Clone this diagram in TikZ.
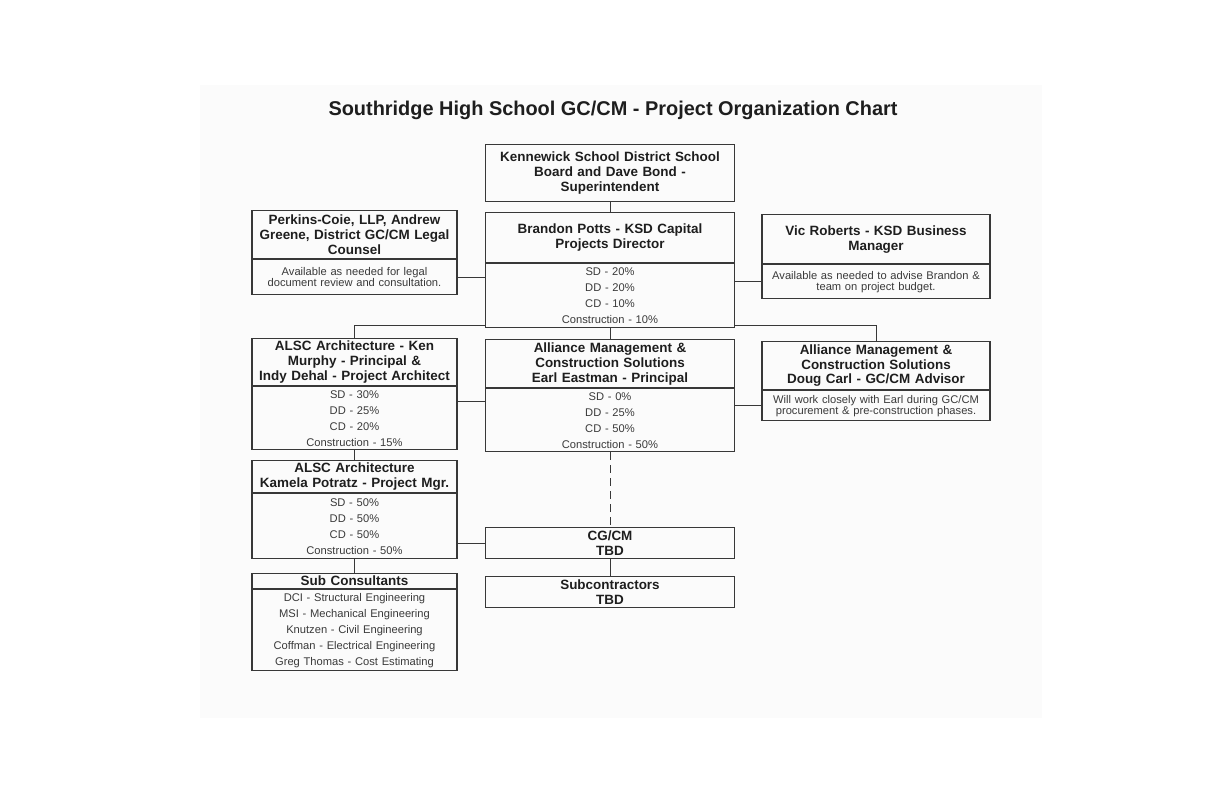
\documentclass[tikz,border=0pt]{standalone}
\usepackage{fontspec}
\setmainfont{Liberation Sans}
\usepackage{xcolor}
\usetikzlibrary{positioning,calc}
\definecolor{ink}{HTML}{1E1E1E}
\definecolor{inksoft}{HTML}{3A3A3A}
\definecolor{frame}{HTML}{383838}
\definecolor{scan}{HTML}{FBFBFB}

\begin{document}
\begin{tikzpicture}[
    x=1bp, y=-1bp,
    box/.style={draw=frame, line width=1.2bp, align=center, inner xsep=0pt,
                inner ysep=1bp, text=ink},
    head/.style={box, font=\fontsize{13.5}{15}\selectfont\bfseries,
                 text width=#1, minimum width=#1, anchor=north},
    rates/.style={box, font=\fontsize{11.2}{16}\selectfont, text=inksoft,
                  text width=#1, minimum width=#1},
    note/.style={box, font=\fontsize{11.2}{11}\selectfont, text=inksoft,
                 text width=#1, minimum width=#1},
    link/.style={draw=frame, line width=1bp},
  ]

\useasboundingbox (0,0) rectangle (1224,792);
\fill[scan] (200,85) rectangle (1042,718);

\node[font=\fontsize{20}{22}\selectfont\bfseries, text=ink] (title) at (613,110)
  {Southridge High School GC/CM - Project Organization Chart};

\node[head=249bp, minimum height=57bp] (board) at (610,144)
  {Kennewick School District School\\Board and Dave Bond -\\Superintendent};

\node[head=249bp, minimum height=49.5bp] (brh) at (610,212)
  {Brandon Potts - KSD Capital\\Projects Director};
\node[rates=249bp, minimum height=64.5bp, below=0pt of brh] (brb)
  {SD - 20\%\\DD - 20\%\\CD - 10\%\\Construction - 10\%};

\node[head=205bp, minimum height=48bp] (perkh) at (354.5,210)
  {Perkins-Coie, LLP, Andrew\\Greene, District GC/CM Legal\\Counsel};
\node[note=205bp, minimum height=35bp, below=0pt of perkh] (perkb)
  {Available as needed for legal\\document review and consultation.};

\node[head=228bp, minimum height=49bp] (vich) at (876,214)
  {Vic Roberts - KSD Business\\Manager};
\node[note=228bp, minimum height=34bp, below=0pt of vich] (vicb)
  {Available as needed to advise Brandon \&\\team on project budget.};

\node[head=205bp, minimum height=47bp] (kenh) at (354.5,338)
  {ALSC Architecture - Ken\\Murphy - Principal \&\\Indy Dehal - Project Architect};
\node[rates=205bp, minimum height=63bp, below=0pt of kenh] (kenb)
  {SD - 30\%\\DD - 25\%\\CD - 20\%\\Construction - 15\%};

\node[head=249bp, minimum height=48bp] (earlh) at (610,339)
  {Alliance Management \&\\Construction Solutions\\Earl Eastman - Principal};
\node[rates=249bp, minimum height=63bp, below=0pt of earlh] (earlb)
  {SD - 0\%\\DD - 25\%\\CD - 50\%\\Construction - 50\%};

\node[head=228bp, minimum height=48bp] (dough) at (876,341)
  {Alliance Management \&\\Construction Solutions\\Doug Carl - GC/CM Advisor};
\node[note=228bp, minimum height=30bp, below=0pt of dough] (dougb)
  {Will work closely with Earl during GC/CM\\procurement \& pre-construction phases.};

\node[head=205bp, minimum height=32bp] (kamh) at (354.5,460)
  {ALSC Architecture\\Kamela Potratz - Project Mgr.};
\node[rates=205bp, minimum height=65bp, below=0pt of kamh] (kamb)
  {SD - 50\%\\DD - 50\%\\CD - 50\%\\Construction - 50\%};

\node[head=249bp, minimum height=31bp] (cgcm) at (610,527)
  {CG/CM\\TBD};

\node[head=205bp, minimum height=15bp, inner ysep=0.5bp] (subh) at (354.5,573)
  {Sub Consultants};
\node[rates=205bp, minimum height=81bp, below=0pt of subh] (subb)
  {DCI - Structural Engineering\\MSI - Mechanical Engineering\\Knutzen - Civil Engineering\\Coffman - Electrical Engineering\\Greg Thomas - Cost Estimating};

\node[head=249bp, minimum height=31bp] (subc) at (610,576)
  {Subcontractors\\TBD};

\draw[link] (board) -- (brh);
\draw[link] (perkb.east) -- (perkb.east -| brb.west);
\draw[link] (vicb.west) -- (vicb.west -| brb.east);
\draw[link] ([yshift=3bp]brb.south west) -| (kenh.north);
\draw[link] ([yshift=3bp]brb.south east) -| (dough.north);
\draw[link] (brb) -- (earlh);
\draw[link] ([yshift=-15bp]kenb.north east) -- ([yshift=-15bp]kenb.north east -| earlb.west);
\draw[link] (dougb.west) -- (dougb.west -| earlb.east);
\draw[link] (kenb) -- (kamh);
\draw[link, dash pattern=on 8bp off 5bp] (earlb) -- (cgcm);
\draw[link] (cgcm.west) -- (cgcm.west -| kamb.east);
\draw[link] (kamb) -- (subh);
\draw[link] (cgcm) -- (subc);

\end{tikzpicture}
\end{document}
